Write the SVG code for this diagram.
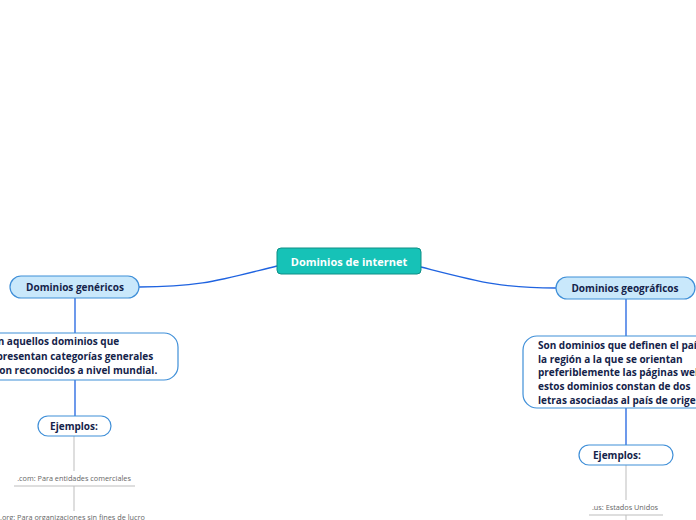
<svg xmlns="http://www.w3.org/2000/svg" width="696" height="520" viewBox="0 0 696 520">
<style>
.main{fill:#16c2b7;stroke:#0f8f86;stroke-width:1}
.topic{fill:#c9e8fb;stroke:#3f8fd8;stroke-width:1.2}
.desc{fill:#ffffff;stroke:#3f8fd8;stroke-width:1.2}
.t{font-family:"Open Sans","Noto Sans",sans-serif;font-weight:bold;fill:#14234a}
.mt{font-family:"Open Sans","Noto Sans",sans-serif;font-weight:bold;fill:#ffffff;font-size:11px}
.small{font-family:"Open Sans","Noto Sans",sans-serif;fill:#666;font-size:7.3px}
.c{fill:none;stroke:#1f63e0;stroke-width:1.3}
.g{fill:none;stroke:#bdbdbd;stroke-width:1}
</style>
<rect width="696" height="520" fill="#ffffff"/>
<g id="connectors">
<path class="c" d="M277,266 C220,280 200,287 139,287"/>
<path class="c" d="M421,267 C480,282 500,288 556,288"/>
<path class="c" d="M75,298 L75,333"/>
<path class="c" d="M75,380 L75,416"/>
<path class="c" d="M626,299 L626,336"/>
<path class="c" d="M626,408 L626,445"/>
<path class="g" d="M74,436 L74,471"/>
<path class="g" d="M14,486 L135,486"/>
<path class="g" d="M74,486 L74,511"/>
<path class="g" d="M626,465 L626,500"/>
<path class="g" d="M589,515 L663,515"/>
<path class="g" d="M626,515 L626,520"/>
</g>
<g id="central">
<rect class="main" x="277" y="248" width="144" height="26" rx="4"/>
<text class="mt" x="349" y="266" text-anchor="middle">Dominios de internet</text>
</g>
<g id="genericos">
<rect class="topic" x="10" y="276" width="129" height="22" rx="11"/>
<text class="t" x="75" y="291" font-size="10" text-anchor="middle">Dominios genéricos</text>
</g>
<g id="genericos-desc">
<rect class="desc" x="-20" y="333" width="198" height="47" rx="14"/>
<text class="t" font-size="10"><tspan x="-14" y="345">Son aquellos dominios que</tspan><tspan x="-14" y="360">representan categorías generales</tspan><tspan x="-14" y="374">y son reconocidos a nivel mundial.</tspan></text>
</g>
<g id="genericos-ejemplos">
<rect class="desc" x="38" y="416" width="73" height="20" rx="10"/>
<text class="t" x="74" y="430" font-size="10" text-anchor="middle">Ejemplos:</text>
</g>
<g id="com">
<text class="small" x="74" y="481" text-anchor="middle">.com: Para entidades comerciales</text>
</g>
<g id="org">
<text class="small" x="0" y="520">.org: Para organizaciones sin fines de lucro</text>
</g>
<g id="geograficos">
<rect class="topic" x="556" y="277" width="139" height="22" rx="11"/>
<text class="t" x="625" y="292" font-size="10" text-anchor="middle">Dominios geográficos</text>
</g>
<g id="geograficos-desc">
<rect class="desc" x="523" y="336" width="200" height="72" rx="14"/>
<text class="t" font-size="10"><tspan x="538" y="349">Son dominios que definen el país o</tspan><tspan x="538" y="363">la región a la que se orientan</tspan><tspan x="538" y="376">preferiblemente las páginas web,</tspan><tspan x="538" y="390">estos dominios constan de dos</tspan><tspan x="538" y="404">letras asociadas al país de origen.</tspan></text>
</g>
<g id="geograficos-ejemplos">
<rect class="desc" x="579" y="445" width="94" height="20" rx="10"/>
<text class="t" x="593" y="459" font-size="10">Ejemplos:</text>
</g>
<g id="us">
<text class="small" x="625" y="510" text-anchor="middle">.us: Estados Unidos</text>
</g>
</svg>
